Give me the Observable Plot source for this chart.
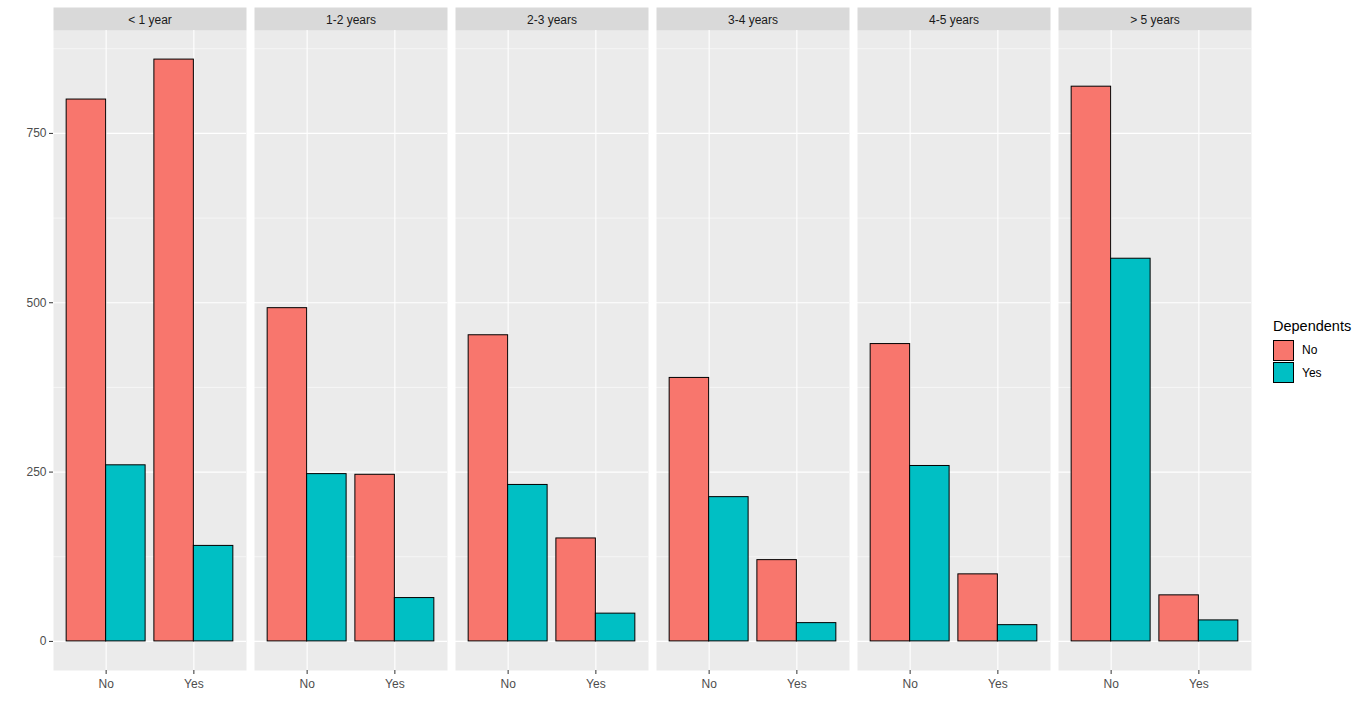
<!DOCTYPE html>
<html>
<head>
<meta charset="utf-8">
<script src="https://cdn.jsdelivr.net/npm/d3@7"></script>
<script src="https://cdn.jsdelivr.net/npm/@observablehq/plot@0.6"></script>
<style>
  body { margin: 0; background: #ffffff; font-family: "Liberation Sans", Arial, sans-serif; }
  #wrap { position: relative; width: 1366px; height: 715px; }
  #legend { position: absolute; left: 1273px; top: 318px; }
  #legend .title { font-size: 14.5px; line-height: 17px; color: #000; margin-bottom: 4px; }
  #legend .row { display: flex; align-items: center; height: 22.5px; }
  #legend .sw { width: 21px; height: 21px; box-sizing: border-box; border: 1px solid #000; }
  #legend .lab { margin-left: 8px; font-size: 12px; color: #000; }
</style>
</head>
<body>
<div id="wrap"><div id="legend"></div></div>
<script>
// ---- data ----
const years = ["< 1 year", "1-2 years", "2-3 years", "3-4 years", "4-5 years", "> 5 years"];
const xCategories = ["No", "Yes"];
const dependents = ["No", "Yes"];
const fillColors = ["#F8766D", "#00BFC4"];
const yTicks = [0, 250, 500, 750];
const yMinorTicks = [125, 375, 625, 875];
// values per year: x category / dependents
const xNoDepNo   = [800, 492, 452, 389, 439, 819];
const xNoDepYes  = [260, 247, 231, 213, 259, 565];
const xYesDepNo  = [859, 246, 152, 120,  99,  68];
const xYesDepYes = [141,  64,  41,  27,  24,  31];

const rows = [];
years.forEach((yr, i) => {
  rows.push({year: yr, x: "No",  dep: "No",  value: xNoDepNo[i]});
  rows.push({year: yr, x: "No",  dep: "Yes", value: xNoDepYes[i]});
  rows.push({year: yr, x: "Yes", dep: "No",  value: xYesDepNo[i]});
  rows.push({year: yr, x: "Yes", dep: "Yes", value: xYesDepYes[i]});
});

const dodge = 0.45;
const left = d => xCategories.indexOf(d.x) - dodge + dependents.indexOf(d.dep) * dodge;
const yMax = d3.max(rows, d => d.value);

const chart = Plot.plot({
  width: 1366,
  height: 715,
  marginLeft: 53,
  marginRight: 115,
  marginTop: 30,
  marginBottom: 45,
  style: {fontFamily: '"Liberation Sans", Arial, sans-serif', fontSize: "12px", color: "#4D4D4D", background: "#ffffff"},
  fx: {domain: years, paddingInner: 0.04, paddingOuter: 0, axis: null, label: null},
  x: {domain: [-0.6, xCategories.length - 0.4], axis: null},
  y: {domain: [-0.05 * yMax, 1.05 * yMax], axis: null},
  color: {domain: dependents, range: fillColors},
  marks: [
    Plot.frame({fill: "#EBEBEB", stroke: "none"}),
    Plot.frame({fill: "#D9D9D9", stroke: "none", insetTop: -23, insetBottom: 640}),
    Plot.gridY(yMinorTicks, {stroke: "#ffffff", strokeOpacity: 1, strokeWidth: 0.55}),
    Plot.gridY(yTicks, {stroke: "#ffffff", strokeOpacity: 1, strokeWidth: 1.1}),
    Plot.gridX(xCategories.map((c, i) => i), {stroke: "#ffffff", strokeOpacity: 1, strokeWidth: 1.1}),
    Plot.rectY(rows, {
      fx: "year",
      x1: left,
      x2: d => left(d) + dodge,
      y1: 0,
      y2: "value",
      fill: "dep",
      stroke: "#000000",
      strokeWidth: 1
    }),
    Plot.axisY(yTicks, {anchor: "left", tickSize: 4, tickPadding: 3, stroke: "#333333", fill: "#4D4D4D", label: null, fontSize: 12}),
    Plot.axisX(xCategories.map((c, i) => i), {anchor: "bottom", tickFormat: i => xCategories[i], tickSize: 4, tickPadding: 4.5, stroke: "#333333", fill: "#4D4D4D", label: null, fontSize: 12}),
    Plot.text(years, {fx: d => d, text: d => d, frameAnchor: "top", dy: -10.5, fill: "#1A1A1A", fontSize: 12, lineAnchor: "middle"})
  ]
});
document.getElementById("wrap").prepend(chart);

// legend
const legend = d3.select("#legend");
legend.append("div").attr("class", "title").text("Dependents");
dependents.forEach((d, i) => {
  const r = legend.append("div").attr("class", "row");
  r.append("div").attr("class", "sw").style("background", fillColors[i]);
  r.append("div").attr("class", "lab").text(d);
});
</script>
</body>
</html>
